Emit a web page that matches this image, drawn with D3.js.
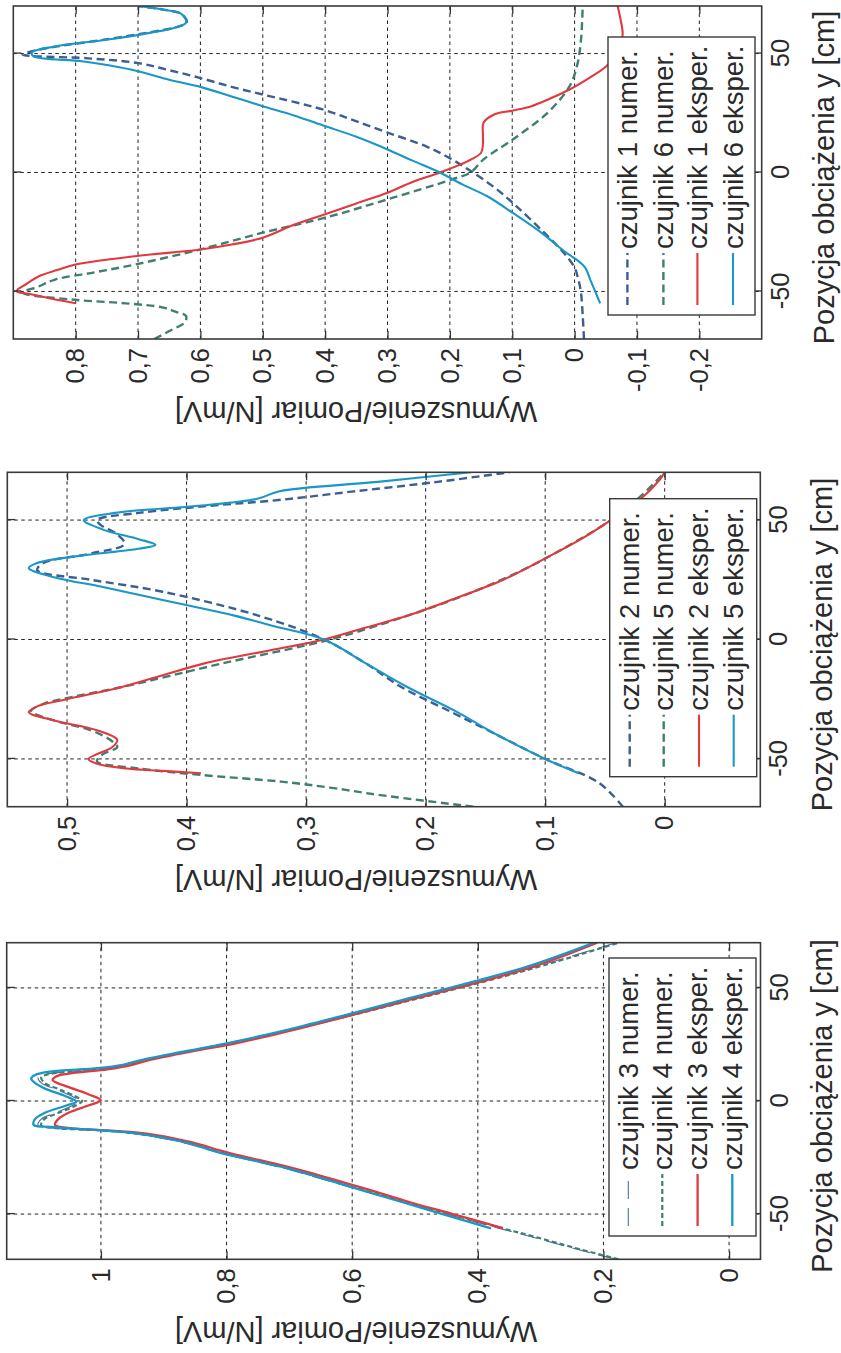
<!DOCTYPE html>
<html><head><meta charset="utf-8">
<script src="https://cdnjs.cloudflare.com/ajax/libs/d3/7.8.5/d3.min.js"></script>
<style>body{margin:0;background:#fff}svg{display:block}</style></head>
<body><svg id="c" width="841" height="1353"></svg>
<script>
// ---------- shared ----------
const posDomain = [-70, 70];
const posTicks = [-50, 0, 50];
const posTickLabels = ["-50", "0", "50"];
const xLabel = "Pozycja obciążenia y [cm]";
const yLabel = "Wymuszenie/Pomiar [N/mV]";

// ---------- panel 1 (czujnik 1 / 6) ----------
const p1Domain = [-0.3, 0.9];
const p1Ticks = [-0.2, -0.1, 0, 0.1, 0.2, 0.3, 0.4, 0.5, 0.6, 0.7, 0.8];
const p1TickLabels = ["-0,2", "-0,1", "0", "0,1", "0,2", "0,3", "0,4", "0,5", "0,6", "0,7", "0,8"];
const p1Names = ["czujnik 1 numer.", "czujnik 6 numer.", "czujnik 1 eksper.", "czujnik 6 eksper."];
const p1_s1num_x = [-70, -60, -50, -45, -40, -33, -25, -14, -7, 0, 6, 11, 16.8, 22, 26.5, 32.8, 36, 39.8, 43, 46, 48, 49.6, 51, 53, 56, 59, 61, 63, 66.6, 68.5, 70];
const p1_s1num_v = [-0.015, -0.013, -0.01, -0.006, 0.0, 0.02, 0.05, 0.094, 0.125, 0.163, 0.2, 0.238, 0.30, 0.355, 0.404, 0.50, 0.55, 0.601, 0.65, 0.70, 0.78, 0.885, 0.87, 0.83, 0.75, 0.68, 0.64, 0.622, 0.63, 0.66, 0.70];
const p1_s6num_x = [-70, -66, -63, -60.4, -58.5, -56.7, -55, -53.4, -50.5, -48, -45, -42, -38.7, -32.4, -25.3, -19, -11.3, -3, 0, 5.5, 13.9, 25.2, 36.3, 45, 55, 70];
const p1_s6num_v = [0.674, 0.645, 0.625, 0.623, 0.64, 0.661, 0.72, 0.807, 0.885, 0.86, 0.833, 0.77, 0.705, 0.601, 0.50, 0.40, 0.30, 0.198, 0.167, 0.146, 0.099, 0.043, 0.008, -0.004, -0.01, -0.013];
const p1_s1exp_x = [-55, -53, -51, -49.9, -47, -43.6, -41, -38.7, -35.2, -32.4, -30.3, -27.4, -22, -17.6, -13, -8.5, -4, 0, 4.7, 8.3, 12, 16, 20.9, 24.4, 26, 27.9, 31, 34.9, 40, 44.7, 50, 54, 58.8, 64, 70];
const p1_s1exp_v = [0.80, 0.84, 0.875, 0.895, 0.88, 0.859, 0.83, 0.80, 0.705, 0.60, 0.55, 0.50, 0.45, 0.40, 0.35, 0.30, 0.26, 0.216, 0.172, 0.15, 0.147, 0.147, 0.146, 0.129, 0.10, 0.069, 0.04, 0.008, -0.025, -0.051, -0.068, -0.075, -0.077, -0.074, -0.069];
const p1_s6exp_x = [-55, -50, -45, -40, -37, -35, -33, -25, -17, -10, -5, 0, 5, 9.7, 15, 19.5, 24, 27.9, 32, 36, 39, 42.6, 45, 46.8, 48.9, 50.5, 53, 55.9, 58.8, 61, 63, 66.6, 68.5, 70];
const p1_s6exp_v = [-0.041, -0.033, -0.025, -0.017, -0.005, 0.006, 0.017, 0.055, 0.099, 0.14, 0.18, 0.216, 0.26, 0.30, 0.35, 0.40, 0.45, 0.50, 0.55, 0.60, 0.65, 0.70, 0.745, 0.79, 0.868, 0.87, 0.833, 0.748, 0.679, 0.64, 0.623, 0.63, 0.66, 0.70];

// ---------- panel 2 (czujnik 2 / 5) ----------
const p2Domain = [-0.08, 0.55];
const p2Ticks = [0, 0.1, 0.2, 0.3, 0.4, 0.5];
const p2TickLabels = ["0", "0,1", "0,2", "0,3", "0,4", "0,5"];
const p2Names = ["czujnik 2 numer.", "czujnik 5 numer.", "czujnik 2 eksper.", "czujnik 5 eksper."];
const p2_s2num_x = [-70, -60, -50, -40, -30, -20, -10, 0, 10, 20, 25, 29, 32, 36, 40, 44, 48, 50, 53, 56, 58.4, 62, 66, 70];
const p2_s2num_v = [0.035, 0.055, 0.10, 0.14, 0.18, 0.22, 0.25, 0.285, 0.34, 0.42, 0.48, 0.525, 0.52, 0.48, 0.452, 0.458, 0.472, 0.475, 0.44, 0.38, 0.323, 0.26, 0.19, 0.13];
const p2_s5num_x = [-70, -65, -62, -59.5, -56.7, -54, -51, -48, -45, -42, -38, -34, -30, -27, -24, -20, -10, 0, 10, 20, 30, 40, 50, 60, 70];
const p2_s5num_v = [0.16, 0.24, 0.28, 0.321, 0.388, 0.44, 0.475, 0.47, 0.458, 0.464, 0.48, 0.51, 0.53, 0.52, 0.495, 0.455, 0.37, 0.28, 0.215, 0.16, 0.115, 0.078, 0.045, 0.02, 0.0];
const p2_s2exp_x = [-56, -55, -54, -52, -50, -48, -45, -42, -38, -34, -30.4, -28, -25, -20, -15, -10, -5, 0, 5, 10, 16.5, 25, 35, 42, 50, 58, 67, 70];
const p2_s2exp_v = [0.388, 0.42, 0.45, 0.475, 0.482, 0.475, 0.462, 0.458, 0.475, 0.51, 0.532, 0.525, 0.50, 0.455, 0.42, 0.385, 0.335, 0.285, 0.25, 0.215, 0.179, 0.135, 0.096, 0.07, 0.045, 0.022, 0.004, 0.0];
const p2_s5exp_x = [-56, -50, -40, -30, -20, -10, 0, 6, 10, 16.5, 22, 26, 29.9, 32, 35, 38, 39.6, 42, 46, 50, 53, 56, 59, 62, 66, 70];
const p2_s5exp_v = [0.072, 0.10, 0.14, 0.175, 0.215, 0.25, 0.285, 0.33, 0.36, 0.42, 0.47, 0.51, 0.532, 0.525, 0.49, 0.44, 0.426, 0.44, 0.47, 0.486, 0.46, 0.39, 0.34, 0.323, 0.24, 0.162];

// ---------- panel 3 (czujnik 3 / 4) ----------
const p3Domain = [-0.05, 1.15];
const p3Ticks = [0, 0.2, 0.4, 0.6, 0.8, 1];
const p3TickLabels = ["0", "0,2", "0,4", "0,6", "0,8", "1"];
const p3Names = ["czujnik 3 numer.", "czujnik 4 numer.", "czujnik 3 eksper.", "czujnik 4 eksper."];
const p3_s3num_x = [-70, -65, -60, -56, -50, -45, -38, -30, -23, -18, -14.5, -13, -12, -10.8, -8, -5, -2, 0, 2, 5, 8, 10.5, 12, 13.5, 15, 18, 22, 25.5, 31, 37.3, 45, 52.8, 60, 70];
const p3_s3num_v = [0.18, 0.25, 0.315, 0.37, 0.45, 0.515, 0.605, 0.705, 0.81, 0.875, 0.945, 1.0, 1.075, 1.10, 1.095, 1.07, 1.045, 1.035, 1.045, 1.07, 1.095, 1.10, 1.085, 1.02, 0.975, 0.932, 0.862, 0.8, 0.71, 0.615, 0.505, 0.395, 0.3, 0.18];
const p3_s4num_x = [-70, -65, -60, -56, -50, -45, -38, -30, -23, -18, -14.5, -13, -12, -10.8, -8, -5, -2, 0, 2, 5, 8, 10.5, 12, 13.5, 15, 18, 22, 25.5, 31, 37.3, 45, 52.8, 60, 70];
const p3_s4num_v = [0.176, 0.245, 0.31, 0.365, 0.445, 0.51, 0.60, 0.70, 0.805, 0.87, 0.94, 1.0, 1.07, 1.095, 1.09, 1.065, 1.04, 1.03, 1.04, 1.065, 1.09, 1.095, 1.08, 1.02, 0.975, 0.93, 0.86, 0.795, 0.705, 0.61, 0.50, 0.39, 0.295, 0.176];
const p3_s3exp_x = [-56.2, -50, -45, -37.9, -30, -23, -18, -14.3, -13, -12, -10.6, -8, -5, -2, 0.3, 3, 6, 9.3, 11, 12.5, 14, 16, 18, 22, 25.5, 31, 37.3, 45, 52.8, 60, 70];
const p3_s3exp_v = [0.36, 0.44, 0.505, 0.59, 0.69, 0.795, 0.86, 0.93, 0.99, 1.05, 1.073, 1.068, 1.05, 1.02, 1.0, 1.02, 1.05, 1.077, 1.07, 1.04, 0.99, 0.95, 0.925, 0.855, 0.785, 0.70, 0.61, 0.505, 0.395, 0.305, 0.21];
const p3_s4exp_x = [-56.3, -50, -45, -37.9, -30, -23, -18, -14.3, -12.8, -11.5, -10.6, -8, -5.3, -2, -0.3, 2, 5.6, 8, 10, 11.5, 13, 14.5, 16, 18.1, 22, 25.5, 31, 37.3, 45, 52.8, 60, 70];
const p3_s4exp_v = [0.379, 0.456, 0.517, 0.603, 0.70, 0.808, 0.87, 0.945, 1.009, 1.08, 1.107, 1.105, 1.09, 1.055, 1.039, 1.055, 1.09, 1.105, 1.111, 1.105, 1.081, 1.004, 0.965, 0.936, 0.865, 0.80, 0.71, 0.62, 0.515, 0.407, 0.315, 0.215];

// ---------- styles ----------
const FONT = '"Liberation Sans", Arial, Helvetica, sans-serif';
const C_NUM_A = "#3b5e93", C_NUM_B = "#3f7f72", C_RED = "#e0393e", C_CYAN = "#1997c6";
const styles = [
  {color: C_NUM_A, width: 2.4, dash: "8,4.5"},
  {color: C_NUM_B, width: 2.4, dash: "8,4.5"},
  {color: C_RED, width: 2.1, dash: null},
  {color: C_CYAN, width: 2.1, dash: null}
];
const styles3 = [
  {color: "#4d6fa6", width: 1.1, dash: "18,9"},
  {color: C_NUM_B, width: 2.2, dash: "5,3"},
  {color: C_RED, width: 2.3, dash: null},
  {color: C_CYAN, width: 2.3, dash: null}
];

const panels = [
  {box: {L: 13.3, R: 761.7, T: 6, B: 339}, dom: p1Domain, ticks: p1Ticks, labels: p1TickLabels, names: p1Names, st: styles,
   series: [[p1_s1num_x, p1_s1num_v], [p1_s6num_x, p1_s6num_v], [p1_s1exp_x, p1_s1exp_v], [p1_s6exp_x, p1_s6exp_v]],
   leg: {x: 24, bottom: 6.7, rows: [19.4, 55.4, 89.4, 125]}},
  {box: {L: 7.3, R: 760.3, T: 472.3, B: 806.7}, dom: p2Domain, ticks: p2Ticks, labels: p2TickLabels, names: p2Names, st: styles,
   series: [[p2_s2num_x, p2_s2num_v], [p2_s5num_x, p2_s5num_v], [p2_s2exp_x, p2_s2exp_v], [p2_s5exp_x, p2_s5exp_v]],
   leg: {x: 30, bottom: 3.6, rows: [20, 54, 89.3, 124]}},
  {box: {L: 6.7, R: 760.5, T: 942.7, B: 1259.3}, dom: p3Domain, ticks: p3Ticks, labels: p3TickLabels, names: p3Names, st: styles3,
   series: [[p3_s3num_x, p3_s3num_v], [p3_s4num_x, p3_s4num_v], [p3_s3exp_x, p3_s3exp_v], [p3_s4exp_x, p3_s4exp_v]],
   leg: {x: 23.3, bottom: 4.5, rows: [19.3, 53.3, 88.6, 123.3]}}
];

const svg = d3.select("#c");
svg.append("rect").attr("width", 841).attr("height", 1353).attr("fill", "#fff");

panels.forEach((p, pi) => {
  const {L, R, T, B} = p.box;
  const w = B - T, h = R - L;
  const g = svg.append("g").attr("transform", `translate(${L},${B}) rotate(-90)`);
  const xs = d3.scaleLinear().domain(posDomain).range([0, w]);
  const ys = d3.scaleLinear().domain(p.dom).range([h, 0]);

  // grid
  const grid = g.append("g").attr("stroke", "#222").attr("stroke-width", 1).attr("stroke-dasharray", "3.5,3.5");
  grid.selectAll(".gx").data(posTicks).join("line")
    .attr("x1", d => xs(d)).attr("x2", d => xs(d)).attr("y1", 0).attr("y2", h);
  grid.selectAll(".gy").data(p.ticks).join("line")
    .attr("y1", d => ys(d)).attr("y2", d => ys(d)).attr("x1", 0).attr("x2", w);

  // curves
  const cid = "clip" + pi;
  g.append("clipPath").attr("id", cid).append("rect").attr("width", w).attr("height", h);
  const line = d3.line().x(d => xs(d[0])).y(d => ys(d[1])).curve(d3.curveCatmullRom.alpha(0.5));
  const cg = g.append("g").attr("clip-path", `url(#${cid})`);
  p.series.forEach((s, i) => {
    const st = p.st[i];
    cg.append("path").datum(d3.zip(s[0], s[1]))
      .attr("d", line).attr("fill", "none")
      .attr("stroke", st.color).attr("stroke-width", st.width)
      .attr("stroke-dasharray", st.dash).attr("stroke-linejoin", "round");
  });

  // axes (inward ticks)
  const fmtX = d => posTickLabels[posTicks.indexOf(d)];
  const fmtY = d => p.labels[p.ticks.indexOf(d)];
  const axB = g.append("g").attr("transform", `translate(0,${h})`)
    .call(d3.axisBottom(xs).tickValues(posTicks).tickFormat(fmtX).tickSizeInner(-8).tickSizeOuter(0).tickPadding(9));
  const axT = g.append("g")
    .call(d3.axisTop(xs).tickValues(posTicks).tickFormat("").tickSizeInner(-8).tickSizeOuter(0));
  const axL = g.append("g")
    .call(d3.axisLeft(ys).tickValues(p.ticks).tickFormat(fmtY).tickSizeInner(-8).tickSizeOuter(0).tickPadding(9));
  const axR = g.append("g").attr("transform", `translate(${w},0)`)
    .call(d3.axisRight(ys).tickValues(p.ticks).tickFormat("").tickSizeInner(-8).tickSizeOuter(0));
  [axB, axT, axL, axR].forEach(a => {
    a.select(".domain").remove();
    a.selectAll("line").attr("stroke", "#333").attr("stroke-width", 1.3);
    a.selectAll("text").attr("font-family", FONT).attr("font-size", 25.5).attr("fill", "#2a2a2a");
  });

  // frame
  g.append("rect").attr("width", w).attr("height", h).attr("fill", "none")
    .attr("stroke", "#3a3a3a").attr("stroke-width", 1.6);

  // labels
  g.append("text").attr("x", w / 2 - 5).attr("y", h + 62)
    .attr("text-anchor", "middle").attr("dominant-baseline", "central")
    .attr("font-family", FONT).attr("font-size", 29).attr("fill", "#2a2a2a").text(xLabel);
  g.append("text").attr("transform", `translate(${-73},${356 - L}) rotate(-90)`)
    .attr("text-anchor", "middle").attr("dominant-baseline", "central")
    .attr("font-family", FONT).attr("font-size", 29).attr("fill", "#2a2a2a").text(yLabel);

  // legend
  const lw = 278, lh = 147;
  const lg = g.append("g").attr("transform", `translate(${p.leg.x},${h - p.leg.bottom - lh})`);
  lg.append("rect").attr("width", lw).attr("height", lh).attr("fill", "#fff")
    .attr("stroke", "#3a3a3a").attr("stroke-width", 1.4);
  p.names.forEach((n, i) => {
    const st = p.st[i];
    const yy = p.leg.rows[i];
    lg.append("line").attr("x1", 10).attr("x2", 62).attr("y1", yy).attr("y2", yy)
      .attr("stroke", st.color).attr("stroke-width", st.width).attr("stroke-dasharray", st.dash);
    lg.append("text").attr("x", 66).attr("y", yy).attr("dominant-baseline", "central")
      .attr("font-family", FONT).attr("font-size", 27.5).attr("fill", "#2a2a2a").text(n);
  });
});
</script></body></html>
